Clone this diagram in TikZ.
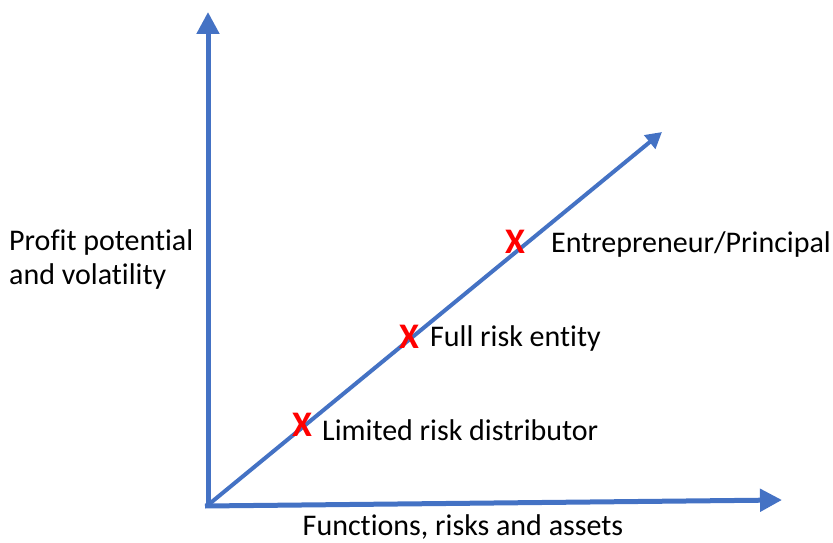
\documentclass[tikz,border=0pt]{standalone}
\usepackage{fontspec}
\setmainfont[Ligatures={NoCommon}]{Carlito}
\usetikzlibrary{arrows.meta}
\definecolor{axblue}{HTML}{4472C4}
\definecolor{xred}{HTML}{FF0000}
\begin{document}
\begin{tikzpicture}[x=1pt,y=-1pt,
  axis/.style={draw=axblue,line width=5pt,-{Triangle[length=22pt,width=22pt]}},
  diag/.style={draw=axblue,line width=4pt,-{Triangle[length=16pt,width=17pt]}},
  xmark/.style={text=xred,font=\fontsize{36}{36}\selectfont\bfseries,inner sep=0pt},
  lbl/.style={font=\fontsize{30}{34}\selectfont,inner sep=0pt,anchor=west},
  ]
\useasboundingbox (0,0) rectangle (833,543);
\coordinate (O) at (208,505);
\coordinate (ytip) at (208,12);
\coordinate (xo) at (205,506);
\coordinate (xtip) at (782,500);
\coordinate (dtip) at (662,132);
\draw[axis] (O) -- (ytip);
\draw[axis] (xo) -- (xtip);
\draw[diag] (O) -- (dtip);
\node[xmark] (x1) at (302,425) {X};
\node[xmark] (x2) at (409,337) {X};
\node[xmark] (x3) at (515,242) {X};
\node[lbl] (l1) at (322,430) {Limited risk distributor};
\node[lbl] (l2) at (430,338) {Full risk entity};
\node[lbl] (l3) at (551,245) {Entrepreneur/Principal};
\node[lbl,align=left] (ylab) at (9,259) {Profit potential\\and volatility};
\node[font=\fontsize{30}{34}\selectfont,inner sep=0pt] (xlab) at (463,527) {Functions, risks and assets};
\end{tikzpicture}
\end{document}
